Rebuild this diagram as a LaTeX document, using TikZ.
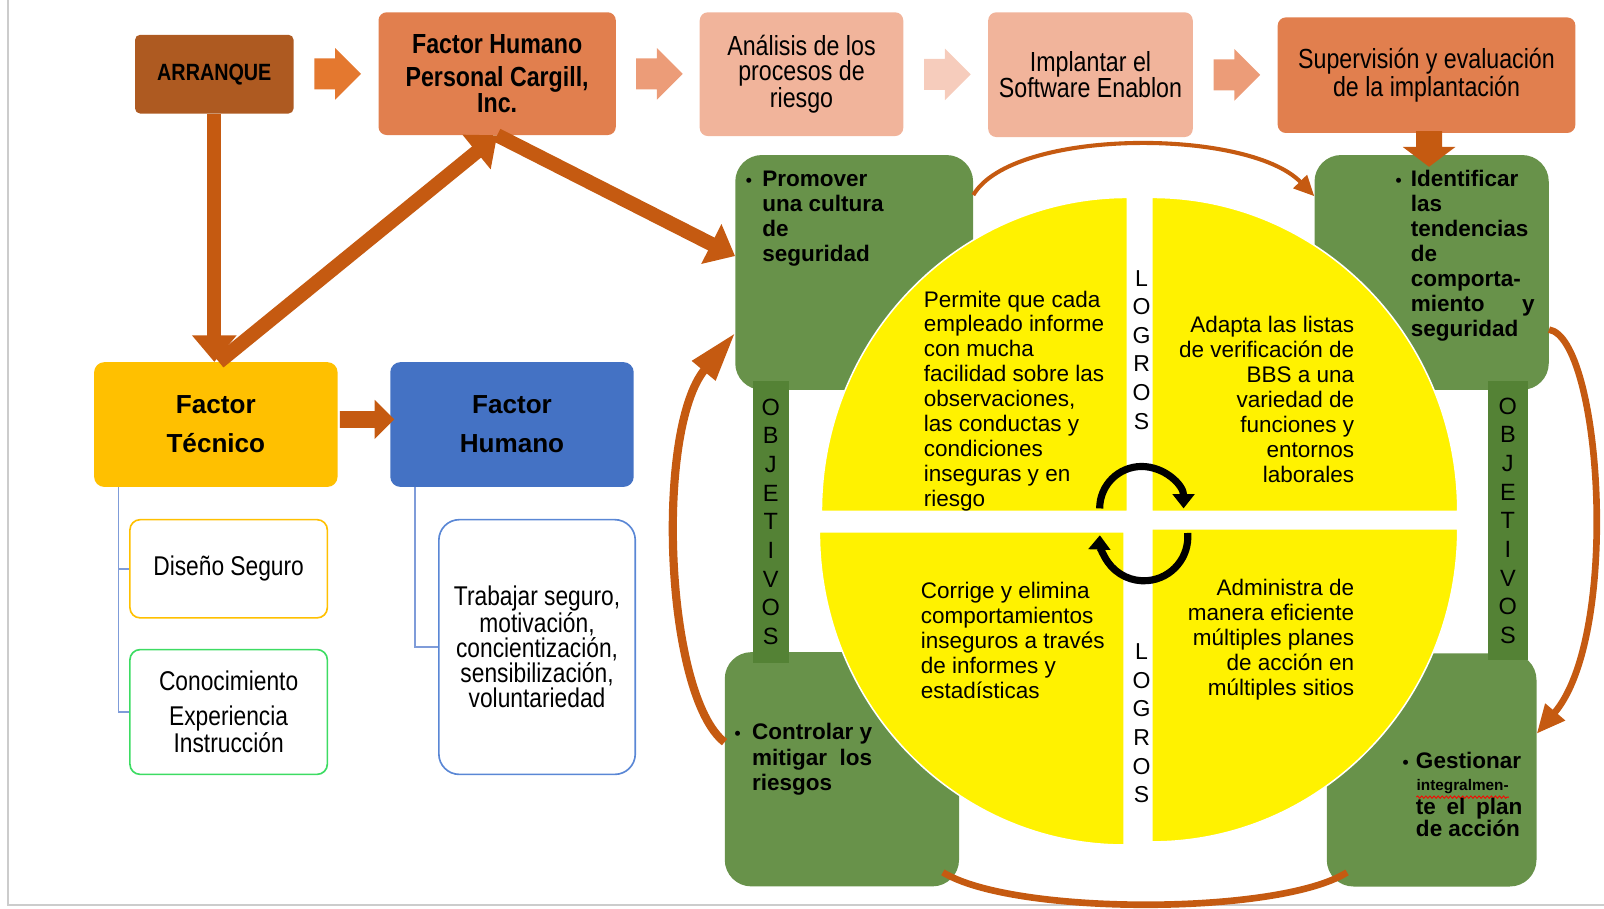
\documentclass[tikz,border=0pt]{standalone}
\usepackage{fontspec}
\setmainfont{Liberation Sans}
\newfontfamily\narrowfont[FakeStretch=0.84]{Liberation Sans}
\usetikzlibrary{arrows.meta,positioning,shapes.arrows,calc,decorations.pathmorphing}
\definecolor{startbrown}{HTML}{AE5A21}
\definecolor{stepdark}{HTML}{E17F4E}
\definecolor{steplight}{HTML}{F1B49B}
\definecolor{arrA}{HTML}{E4782F}
\definecolor{arrB}{HTML}{EC9C78}
\definecolor{arrC}{HTML}{F6CCBC}
\definecolor{rust}{HTML}{C55A11}
\definecolor{techgold}{HTML}{FFC000}
\definecolor{humblue}{HTML}{4472C4}
\definecolor{treeblue}{HTML}{7F9CD9}
\definecolor{leafgreen}{HTML}{3DDC63}
\definecolor{leafblue}{HTML}{5A87D5}
\definecolor{goalgreen}{HTML}{68924A}
\definecolor{bargreen}{HTML}{548235}
\newcommand\bul{{\fontsize{17}{17}\selectfont\textbullet}}
\newcommand\redwave[1]{\tikz[baseline=(w.base)]{\node[inner sep=0pt] (w) {#1};
  \draw[red, line width=0.8pt, decorate, decoration={snake, amplitude=1.2pt, segment length=4pt}] ([yshift=-3pt]w.south west) -- ([yshift=-3pt]w.south east);}}
\tikzset{
  bbs/box/.style={rounded corners=8pt, inner sep=0pt, align=center},
  bbs/top/.style={bbs/box, font=\narrowfont\fontsize{27}{25}\selectfont},
  bbs/blockarrow/.style={single arrow, single arrow head extend=10pt, inner sep=15pt, minimum height=45pt, xshift=-6pt},
  bbs/factor/.style={bbs/box, rounded corners=10pt, minimum width=238pt, minimum height=122pt, font=\bfseries\fontsize{25.5}{38}\selectfont},
  bbs/leaf/.style={draw, line width=1.6pt, rounded corners=10pt, fill=white, inner sep=0pt, align=center, font=\narrowfont\fontsize{26.5}{24.5}\selectfont},
  bbs/goal/.style={fill=goalgreen, rounded corners=26pt, inner sep=0pt},
  bbs/goaltext/.style={anchor=north west, inner sep=0pt, font=\bfseries\fontsize{22}{24.5}\selectfont},
  bbs/bar/.style={fill=bargreen, inner sep=0pt, align=center, font=\fontsize{23}{28}\selectfont},
  bbs/vletters/.style={inner sep=0pt, align=center, font=\fontsize{22.5}{28}\selectfont},
  bbs/quad/.style={fill=yellow, draw=white, line width=1.5pt},
  bbs/quadtext/.style={inner sep=0pt, font=\fontsize{22}{24.4}\selectfont},
  bbs/tree/.style={draw=treeblue, line width=1.8pt},
  bbs/fat/.style={draw=rust, line width=14pt, -{Triangle[width=42pt,length=26pt]}},
  bbs/curve/.style={draw=rust, line width=6.5pt, -{Triangle[width=24pt,length=28pt]}},
  bbs/turn/.style={draw=black, line width=7pt, -{Triangle[width=21pt,length=14pt]}}
}

\begin{document}
\begin{tikzpicture}[x=1pt, y=-1pt]
  \useasboundingbox (0,0) rectangle (1568,888);
  \draw[black!20, line width=2pt] (8,0) -- (8,885) -- (1568,885);

  % process steps
  \node[bbs/top, fill=startbrown, minimum width=155pt, minimum height=77pt, rounded corners=5pt, font=\narrowfont\bfseries\fontsize{23}{24}\selectfont] (arranque) at (209.5,72.5) {ARRANQUE};
  \node[bbs/top, fill=stepdark, minimum width=232pt, minimum height=120pt, font=\narrowfont\bfseries\fontsize{27}{24}\selectfont] (fhumano) at (486,72) {Factor Humano\\[9pt]Personal Cargill,\\Inc.};
  \node[bbs/top, fill=steplight, minimum width=199pt, minimum height=121pt] (analisis) at (783.5,72.5) {Análisis de los\\procesos de\\riesgo};
  \node[bbs/top, fill=steplight, minimum width=200pt, minimum height=122pt] (implantar) at (1066,73) {Implantar el\\Software Enablon};
  \node[bbs/top, fill=stepdark, minimum width=291pt, minimum height=113pt] (supervision) at (1394.5,73.5) {Supervisión y evaluación\\de la implantación};

  \node[bbs/blockarrow, fill=arrA] (stepA) at ($(arranque.east)!0.5!(fhumano.west)$) {};
  \node[bbs/blockarrow, fill=arrB] (stepB) at ($(fhumano.east)!0.5!(analisis.west)$) {};
  \node[bbs/blockarrow, fill=arrC] (stepC) at ($(analisis.east)!0.5!(implantar.west)$) {};
  \node[bbs/blockarrow, fill=arrB] (stepD) at ($(implantar.east)!0.5!(supervision.west)$) {};

  % factors
  \node[bbs/factor, fill=techgold] (ftecnico) at (211,415) {Factor\\Técnico};
  \node[bbs/factor, fill=humblue] (fhumanob) at (500.5,415) {Factor\\Humano};
  \node[bbs/blockarrow, fill=rust, inner sep=8pt, single arrow head extend=11pt, minimum height=53pt, xshift=3pt] (stepE) at ($(ftecnico.east)!0.5!(fhumanob.west)+(2,-5)$) {};

  \node[bbs/leaf, draw=techgold, minimum width=193pt, minimum height=96pt] (diseno) at (223.5,556) {Diseño Seguro};
  \node[bbs/leaf, draw=leafgreen, minimum width=193pt, minimum height=122pt] (conoc) at (223.5,696) {Conocimiento\\[9.5pt]Experiencia\\Instrucción};
  \node[bbs/leaf, draw=leafblue, rounded corners=20pt, minimum width=192pt, minimum height=249pt] (trabajar) at (525,632.5) {Trabajar seguro,\\motivación,\\concientización,\\sensibilización,\\voluntariedad};

  \draw[bbs/tree] ([xshift=24pt]ftecnico.south west) |- (diseno.west);
  \draw[bbs/tree] ([xshift=24pt]ftecnico.south west) |- (conoc.west);
  \draw[bbs/tree] ([xshift=24pt]fhumanob.south west) |- (trabajar.west);

  % objectives
  \node[bbs/goal, minimum width=232.5pt, minimum height=229.5pt] (promover) at (835,266.3) {};
  \node[bbs/goal, minimum width=229pt, minimum height=229.5pt] (identificar) at (1399.5,266.3) {};
  \node[bbs/goal, minimum width=229pt, minimum height=229pt] (controlar) at (823,752) {};
  \node[bbs/goal, minimum width=205pt, minimum height=228pt] (gestionar) at (1399.5,752.6) {};
  \node[bbs/bar, minimum width=35pt, minimum height=276pt] (objL) at (753.5,510) {O\\B\\J\\E\\T\\I\\V\\O\\S};
  \node[bbs/bar, minimum width=39pt, minimum height=273pt] (objR) at (1474,509) {O\\B\\J\\E\\T\\I\\V\\O\\S};

  \draw[bbs/fat] (arranque.south) -- (arranque.south |- ftecnico.north);
  \draw[bbs/fat] ([xshift=3pt]ftecnico.north) -- (fhumano.south);
  \draw[bbs/fat] (fhumano.south) -- ([yshift=16pt]promover.west);
  \node[bbs/blockarrow, fill=rust, inner sep=12.5pt, single arrow head extend=13pt, minimum height=32pt, single arrow tip angle=106, shape border rotate=270, xshift=6pt] (stepF) at ($(supervision.south)!0.5!(identificar.north)$) {};

  % achievements
  \path[bbs/quad] (1102,500) -- (803,500) arc[start angle=180, end angle=270, x radius=299, y radius=307] -- cycle;
  \path[bbs/quad] (1126,500) -- (1126,193) arc[start angle=270, end angle=360, x radius=299, y radius=307] -- cycle;
  \path[bbs/quad] (1126,517) -- (1425,517) arc[start angle=0, end angle=90, x radius=299, y radius=306] -- cycle;
  \path[bbs/quad] (1099,520) -- (1099,826) arc[start angle=90, end angle=180, x radius=298, y radius=306] -- cycle;

  \node[bbs/quadtext, anchor=north west, align=left] (logroA) at (903,284) {Permite que cada\\empleado informe\\con mucha\\facilidad sobre las\\observaciones,\\las conductas y\\condiciones\\inseguras y en\\riesgo};
  \node[bbs/quadtext, anchor=north east, align=right] (logroB) at (1324,309) {Adapta las listas\\de verificación de\\BBS a una\\variedad de\\funciones y\\entornos\\laborales};
  \node[bbs/quadtext, anchor=north west, align=left] (logroC) at (900,569) {Corrige y elimina\\comportamientos\\inseguros a través\\de informes y\\estadísticas};
  \node[bbs/quadtext, anchor=north east, align=right] (logroD) at (1324,566) {Administra de\\manera eficiente\\múltiples planes\\de acción en\\múltiples sitios};
  \node[bbs/vletters] (logrosA) at (1116,342) {L\\O\\G\\R\\O\\S};
  \node[bbs/vletters] (logrosB) at (1116,707) {L\\O\\G\\R\\O\\S};

  \draw[bbs/turn] (1075,497) arc[start angle=180, end angle=360, radius=41];
  \draw[bbs/turn] (1161,521) arc[start angle=-5, end angle=182, radius=43];

  \node[bbs/goaltext] (txtPromover) at (729,165) {\begin{tabular}{@{}p{16pt}@{}l@{}}\bul & Promover\\ & una cultura\\ & de\\ & seguridad\end{tabular}};
  \node[bbs/goaltext] (txtIdentificar) at (1364,165) {\begin{tabular}{@{}p{15pt}@{}l@{}}\bul & Identificar\\ & las\\ & tendencias\\ & de\\ & comporta-\\ & \makebox[121pt][l]{miento\hfill y}\\ & seguridad\end{tabular}};
  \node[bbs/goaltext] (txtControlar) at (718,706) {\begin{tabular}{@{}p{17pt}@{}l@{}}\bul & Controlar y\\ & mitigar\ \ los\\ & riesgos\end{tabular}};
  \node[bbs/goaltext] (txtGestionar) at (1371,734) {\begin{tabular}{@{}p{13pt}@{}l@{}}\bul & Gestionar\\[-3pt] & {\fontsize{15}{15}\selectfont\redwave{integralmen-}}\\[-2pt] & \makebox[104pt][l]{te\hfill el\hfill plan}\\[-3pt] & de acción\end{tabular}};

  % cycle between objectives
  \draw[bbs/curve, line width=4pt, -{Triangle[width=18pt,length=20pt]}] (promover.33) .. controls (990,125) and (1220,125) .. (identificar.147);
  \draw[bbs/curve] (identificar.-26) .. controls (1565,330) and (1585,620) .. (gestionar.19);
  \draw[bbs/curve, -] ([shift={(20pt,14pt)}]gestionar.south west) .. controls (1250,895) and (990,895) .. ([shift={(-16pt,14pt)}]controlar.south east);
  \draw[bbs/curve, line width=8pt, -{Triangle[width=28pt,length=48pt]}] (controlar.167) .. controls (650,680) and (640,420) .. (promover.207);
\end{tikzpicture}
\end{document}
